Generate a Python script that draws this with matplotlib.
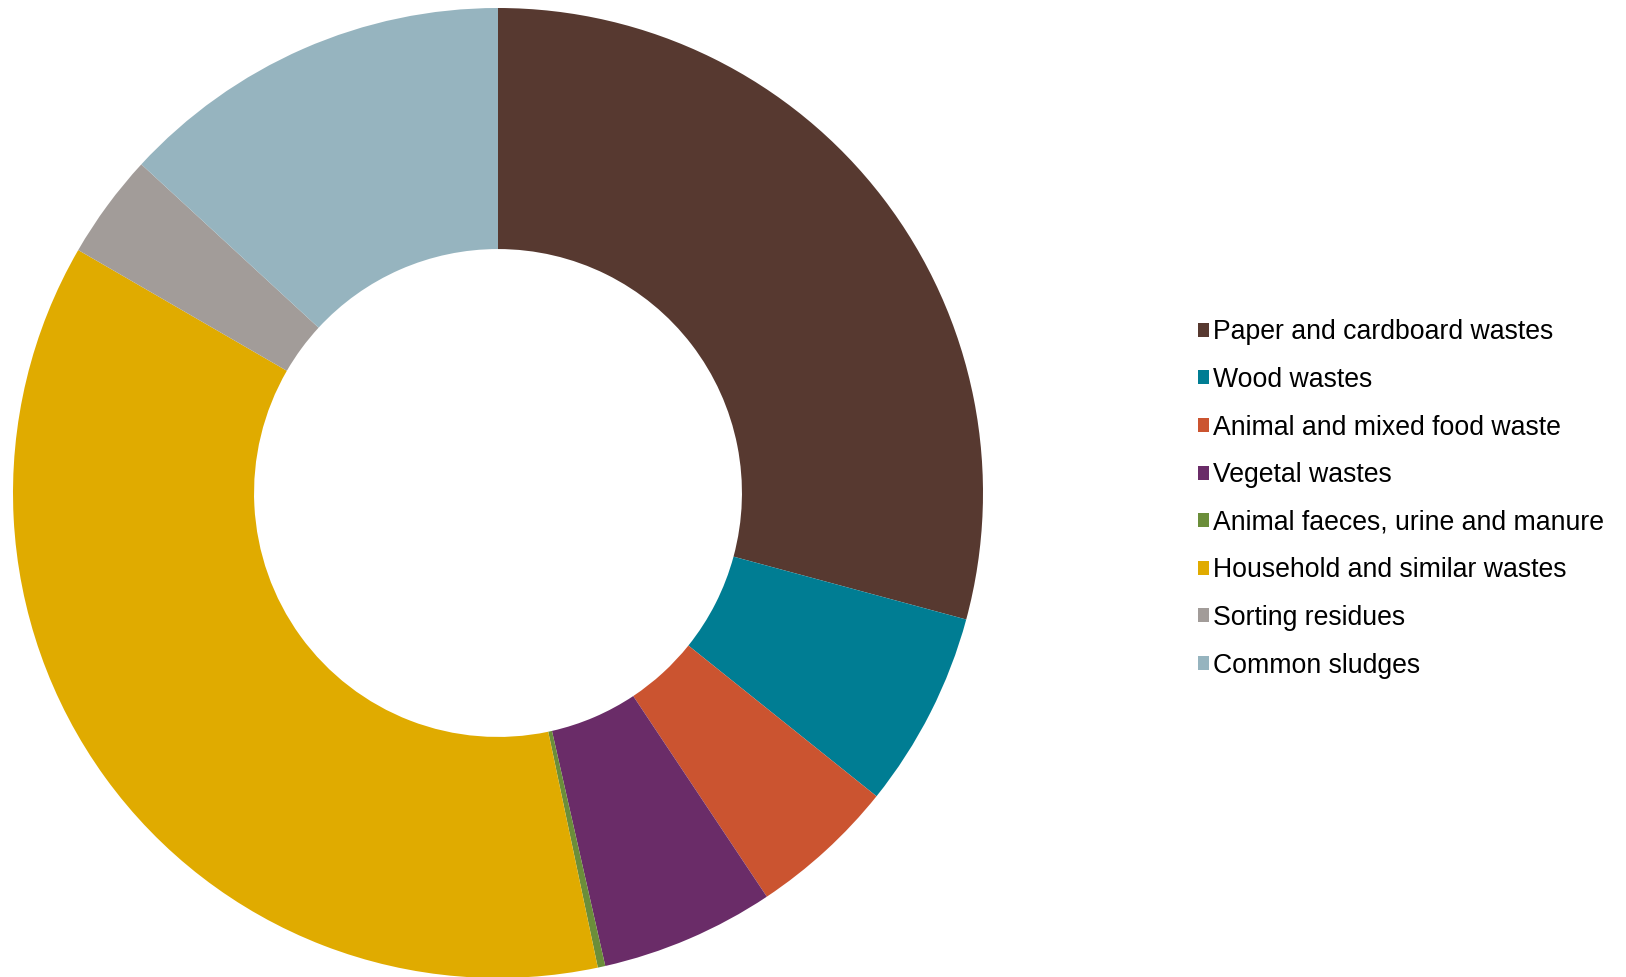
import matplotlib.pyplot as plt
from matplotlib.patches import Patch

labels = ['Paper and cardboard wastes', 'Wood wastes', 'Animal and mixed food waste',
          'Vegetal wastes', 'Animal faeces, urine and manure', 'Household and similar wastes',
          'Sorting residues', 'Common sludges']
shares = [29.2, 6.55, 4.9, 5.8, 0.25, 36.65, 3.5, 13.15]
colors = ['#573930', '#007D93', '#CB5430', '#6A2C68', '#6B8E3A', '#E0AB00', '#A29C99', '#96B4BF']

plt.rcParams['font.family'] = ['Liberation Sans', 'DejaVu Sans']

W, H = 1626, 977
fig = plt.figure(figsize=(W / 100, H / 100), dpi=100)

# donut centred at (498, 493) px, radius 485 px
cx, cy, r = 498, 493, 485
ax = fig.add_axes([(cx - r) / W, (H - cy - r) / H, 2 * r / W, 2 * r / H])
wedges, _ = ax.pie(shares, colors=colors, startangle=90, counterclock=False,
                   radius=1, wedgeprops=dict(width=0.497, linewidth=0))
ax.set_xlim(-1, 1)
ax.set_ylim(-1, 1)
ax.set_aspect('equal')
ax.axis('off')

handles = [Patch(facecolor=c, edgecolor='none') for c in colors]
fig.legend(handles, labels, loc='center left', bbox_to_anchor=(1198 / W, 1 - 499 / H),
           frameon=False, fontsize=19.2, handlelength=0.43, handleheight=0.43,
           handletextpad=0.14, labelspacing=0.81, borderaxespad=0, borderpad=0)

fig.savefig('out.png', dpi=100)
